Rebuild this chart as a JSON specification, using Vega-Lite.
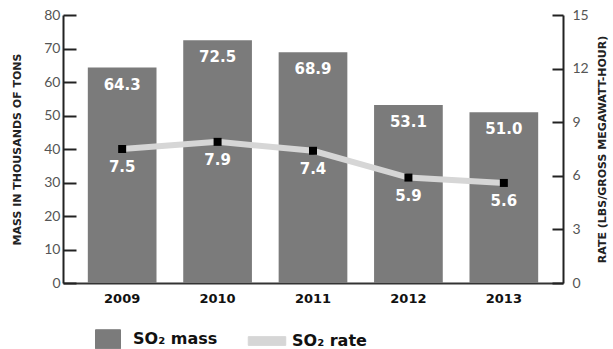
{
  "$schema": "https://vega.github.io/schema/vega-lite/v6.json",
  "width": 500,
  "height": 268,
  "autosize": {"type": "none"},
  "padding": {"left": 63, "top": 15, "right": 50, "bottom": 66},
  "background": "white",
  "config": {"view": {"stroke": null}, "font": "Lato"},
  "data": {"values": [
    {"year": "2009", "mass": 64.3, "rate": 7.5},
    {"year": "2010", "mass": 72.5, "rate": 7.9},
    {"year": "2011", "mass": 68.9, "rate": 7.4},
    {"year": "2012", "mass": 53.1, "rate": 5.9},
    {"year": "2013", "mass": 51.0, "rate": 5.6}
  ]},
  "encoding": {
    "x": {
      "field": "year", "type": "ordinal",
      "scale": {"paddingInner": 0.28, "paddingOuter": 0.26},
      "axis": {
        "title": null, "labelAngle": 0, "ticks": false,
        "domainColor": "#333", "domainWidth": 2,
        "labelFont": "DejaVu Sans", "labelFontWeight": "bold", "labelFontSize": 13,
        "labelColor": "#111", "labelPadding": 9
      }
    }
  },
  "layer": [
    {
      "encoding": {
        "y": {
          "field": "mass", "type": "quantitative",
          "scale": {"domain": [0, 80], "nice": false},
          "axis": {
            "title": "MASS IN THOUSANDS OF TONS", "orient": "left",
            "values": [0, 10, 20, 30, 40, 50, 60, 70, 80],
            "grid": false, "domainColor": "#222", "domainWidth": 2,
            "tickColor": "#222", "tickWidth": 2, "tickSize": -13,
            "labelFont": "Lato", "labelFontSize": 14, "labelColor": "#555",
            "labelPadding": 16,
            "titleFont": "DejaVu Sans", "titleFontWeight": "bold", "titleFontSize": 11,
            "titleColor": "#222", "titlePadding": 21
          }
        }
      },
      "layer": [
        {
          "mark": {"type": "bar"},
          "encoding": {
            "color": {
              "datum": "SO₂ mass", "type": "nominal",
              "scale": {"domain": ["SO₂ mass", "SO₂ rate"], "range": ["#7b7b7b", "#d6d6d6"]},
              "legend": {
                "title": null, "orient": "none", "legendX": 32, "legendY": 311,
                "direction": "horizontal", "columns": 2, "columnPadding": 28,
                "symbolSize": 625, "symbolStrokeWidth": 1,
                "labelFont": "DejaVu Sans", "labelFontWeight": "bold", "labelFontSize": 16,
                "labelColor": "#111", "labelOffset": 12, "labelLimit": 200,
                "encode": {
                  "symbols": {
                    "update": {
                      "shape": {"signal": "datum.value === 'SO₂ rate' ? 'M-1.5,-0.35H1.5V0.35H-1.5Z' : 'M-1,-0.76H1V0.76H-1Z'"},
                      "fill": {"signal": "datum.value === 'SO₂ rate' ? '#d6d6d6' : '#7b7b7b'"},
                      "stroke": {"signal": "datum.value === 'SO₂ rate' ? '#999999' : '#7b7b7b'"},
                      "strokeWidth": {"value": 1},
                      "opacity": {"value": 1}
                    }
                  }
                }
              }
            }
          }
        },
        {
          "mark": {"type": "text", "baseline": "middle", "dy": 17, "color": "white",
                   "font": "DejaVu Sans", "fontWeight": "bold", "fontSize": 15},
          "encoding": {"text": {"field": "mass", "type": "quantitative", "format": ".1f"}}
        }
      ]
    },
    {
      "encoding": {
        "y": {
          "field": "rate", "type": "quantitative",
          "scale": {"domain": [0, 15], "nice": false},
          "axis": {
            "title": "RATE (LBS/GROSS MEGAWATT-HOUR)", "orient": "right",
            "values": [0, 3, 6, 9, 12, 15],
            "grid": false, "domainColor": "#222", "domainWidth": 2,
            "tickColor": "#222", "tickWidth": 2, "tickSize": -11,
            "labelFont": "Lato", "labelFontSize": 14, "labelColor": "#555",
            "labelPadding": 20,
            "titleFont": "DejaVu Sans", "titleFontWeight": "bold", "titleFontSize": 11,
            "titleColor": "#222", "titleAngle": 270, "titlePadding": 19
          }
        }
      },
      "layer": [
        {
          "mark": {"type": "line", "strokeWidth": 6},
          "encoding": {"color": {"datum": "SO₂ rate", "type": "nominal"}}
        },
        {
          "mark": {"type": "point", "shape": "square", "filled": true, "color": "black", "size": 64, "opacity": 1}
        },
        {
          "mark": {"type": "text", "baseline": "middle", "dy": 18, "color": "white",
                   "font": "DejaVu Sans", "fontWeight": "bold", "fontSize": 15},
          "encoding": {"text": {"field": "rate", "type": "quantitative", "format": ".1f"}}
        }
      ]
    }
  ],
  "resolve": {"scale": {"y": "independent"}}
}
